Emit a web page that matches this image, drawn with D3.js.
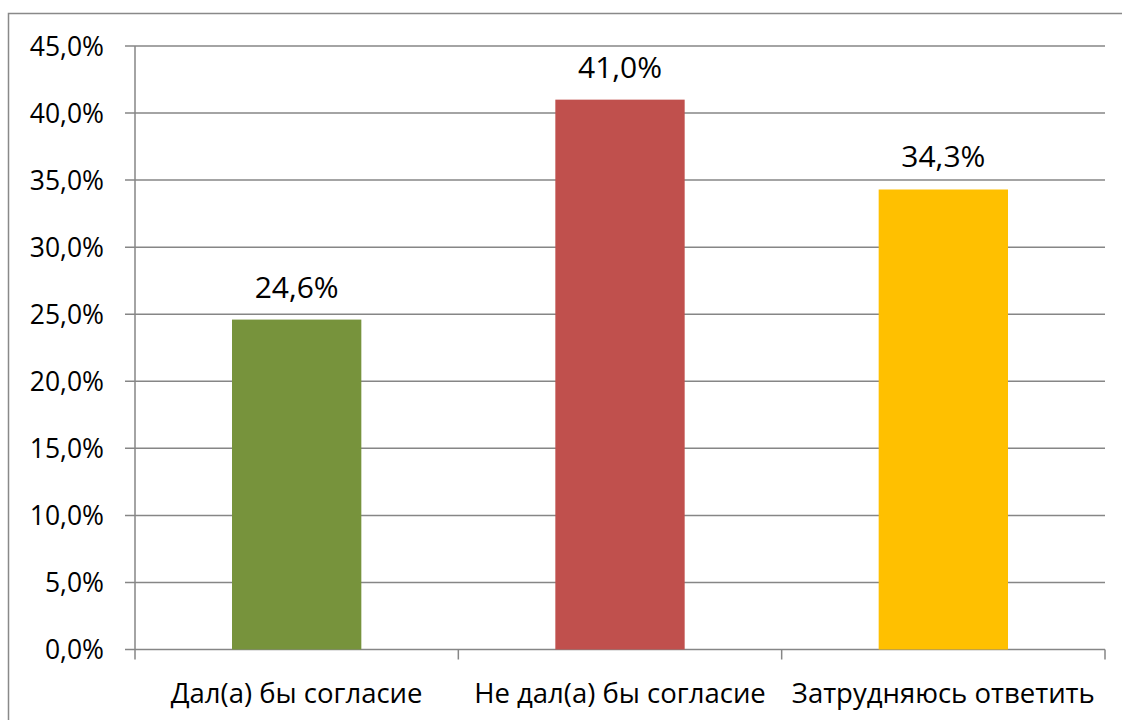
<!DOCTYPE html>
<html>
<head>
<meta charset="utf-8">
<script src="https://cdn.jsdelivr.net/npm/d3@7"></script>
<style>
  body { margin: 0; background: #fff; }
  svg { display: block; font-family: 'Open Sans', 'Noto Sans', sans-serif; }
</style>
</head>
<body>
<div id="chart"></div>
<script>
const categories = ['Дал(а) бы согласие', 'Не дал(а) бы согласие', 'Затрудняюсь ответить'];
const values = [24.6, 41.0, 34.3];
const colors = ['#77933C', '#C0504D', '#FFC000'];
const yTicks = [0, 5, 10, 15, 20, 25, 30, 35, 40, 45];

const width = 1122;
const height = 720;
const margin = { top: 46, right: 17, bottom: 70.5, left: 135 };

const fmt = v => d3.format('.1f')(v).replace('.', ',');

const svg = d3.select('#chart')
  .append('svg')
  .attr('width', width)
  .attr('height', height);

// outer chart frame
svg.append('rect')
  .attr('x', 8.5)
  .attr('y', 13.5)
  .attr('width', width)
  .attr('height', height)
  .attr('fill', 'none')
  .attr('stroke', '#898989')
  .attr('stroke-width', 1.5);

const x = d3.scaleBand()
  .domain(categories)
  .range([margin.left, width - margin.right])
  .paddingInner(0.6)
  .paddingOuter(0.3);

const y = d3.scaleLinear()
  .domain([0, 45])
  .range([height - margin.bottom, margin.top]);

// gridlines
svg.append('g')
  .selectAll('line')
  .data(yTicks)
  .enter()
  .append('line')
  .attr('x1', margin.left - 10)
  .attr('x2', width - margin.right)
  .attr('y1', d => y(d))
  .attr('y2', d => y(d))
  .attr('stroke', '#868686')
  .attr('stroke-width', 1.5);

// y axis line
svg.append('line')
  .attr('x1', margin.left)
  .attr('x2', margin.left)
  .attr('y1', y(45))
  .attr('y2', y(0))
  .attr('stroke', '#868686')
  .attr('stroke-width', 1.5);

// y labels
svg.append('g')
  .selectAll('text')
  .data(yTicks)
  .enter()
  .append('text')
  .attr('x', 104)
  .attr('y', d => y(d))
  .attr('dy', '0.36em')
  .attr('text-anchor', 'end')
  .attr('font-size', 26.5)
  .attr('fill', '#000')
  .text(d => `${fmt(d)}%`);

// x ticks at category boundaries
const bounds = d3.range(categories.length + 1).map(i => margin.left + i * x.step());
svg.append('g')
  .selectAll('line')
  .data(bounds)
  .enter()
  .append('line')
  .attr('x1', d => d)
  .attr('x2', d => d)
  .attr('y1', y(0))
  .attr('y2', y(0) + 10)
  .attr('stroke', '#868686')
  .attr('stroke-width', 1.5);

// bars
svg.append('g')
  .selectAll('rect')
  .data(categories)
  .enter()
  .append('rect')
  .attr('x', d => x(d))
  .attr('width', x.bandwidth())
  .attr('y', (d, i) => y(values[i]))
  .attr('height', (d, i) => y(0) - y(values[i]))
  .attr('fill', (d, i) => colors[i]);

// value labels
svg.append('g')
  .selectAll('text')
  .data(categories)
  .enter()
  .append('text')
  .attr('x', d => x(d) + x.bandwidth() / 2)
  .attr('y', (d, i) => y(values[i]) - 22)
  .attr('text-anchor', 'middle')
  .attr('font-size', 30)
  .attr('fill', '#000')
  .text((d, i) => `${fmt(values[i])}%`);

// category labels
svg.append('g')
  .selectAll('text')
  .data(categories)
  .enter()
  .append('text')
  .attr('x', d => x(d) + x.bandwidth() / 2)
  .attr('y', 703)
  .attr('text-anchor', 'middle')
  .attr('font-size', 27.5)
  .attr('fill', '#000')
  .text(d => d);
</script>
</body>
</html>
